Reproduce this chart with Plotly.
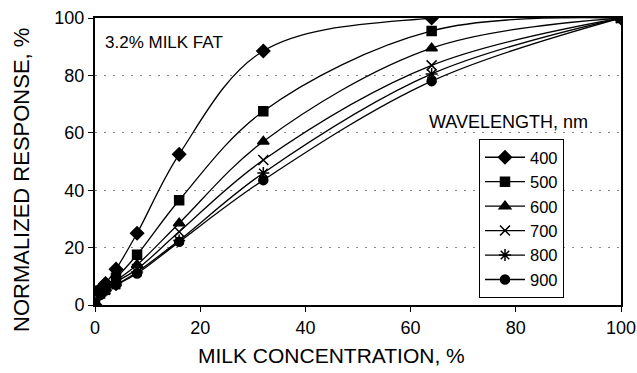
import plotly.graph_objects as go

milk_conc = [0, 1, 2, 4, 8, 16, 32, 64, 100]
wavelengths = ["400", "500", "600", "700", "800", "900"]
resp_400 = [0, 5.5, 7.5, 12.5, 25.0, 52.5, 88.5, 100.0, 100]
resp_500 = [0, 5.0, 6.5, 9.5, 17.5, 36.5, 67.5, 95.5, 100]
resp_600 = [0, 4.5, 6.0, 8.5, 14.0, 28.5, 57.0, 89.5, 100]
resp_700 = [0, 4.0, 5.5, 8.0, 12.5, 25.5, 50.5, 83.5, 100]
resp_800 = [0, 4.0, 5.0, 7.0, 11.5, 22.5, 46.0, 80.5, 100]
resp_900 = [0, 3.5, 5.0, 7.0, 11.0, 22.0, 43.5, 78.0, 100]
series = [resp_400, resp_500, resp_600, resp_700, resp_800, resp_900]
symbols = ["diamond", "square", "triangle-up", "x-thin-open", "asterisk-open", "circle"]
sizes = [10, 9, 10, 10, 10, 9]

FONT = "Liberation Sans, Arial, sans-serif"

fig = go.Figure()
for name, ys, sym, sz in zip(wavelengths, series, symbols, sizes):
    fig.add_trace(go.Scatter(
        x=milk_conc, y=ys, name=name, mode="lines+markers",
        line=dict(color="black", width=1.3, shape="spline", smoothing=1),
        marker=dict(symbol=sym, size=sz, color="black",
                    line=dict(color="black", width=1.5)),
    ))

fig.update_layout(
    width=637, height=373,
    margin=dict(l=95, r=16, t=18, b=68, autoexpand=False),
    paper_bgcolor="white", plot_bgcolor="white",
    font=dict(family=FONT, color="black", size=18),
    showlegend=True,
    legend=dict(x=(479 - 95) / 526, y=(305 - 139) / 287, xanchor="left", yanchor="top",
                bordercolor="black", borderwidth=1, bgcolor="white",
                font=dict(size=16.5), itemwidth=40),
    xaxis=dict(range=[0, 100], tickvals=[0, 20, 40, 60, 80, 100],
               showline=True, linecolor="black", linewidth=2, mirror=True,
               ticks="outside", ticklen=5, tickcolor="black", tickwidth=1,
               showgrid=False, zeroline=False, automargin=False,
               tickfont=dict(size=18)),
    yaxis=dict(range=[0, 100], tickvals=[0, 20, 40, 60, 80, 100],
               showline=True, linecolor="black", linewidth=2, mirror=True,
               ticks="outside", ticklen=5, tickcolor="black", tickwidth=1,
               showgrid=True, gridcolor="#888", griddash="2px,7px", gridwidth=1,
               zeroline=False, automargin=False,
               tickfont=dict(size=18)),
    annotations=[
        dict(text="MILK CONCENTRATION, %", xref="paper", yref="paper",
             x=(331 - 95) / 526, y=(305 - 355) / 287, xanchor="center", yanchor="middle",
             showarrow=False, font=dict(size=21)),
        dict(text="NORMALIZED RESPONSE, %", xref="paper", yref="paper",
             x=(21 - 95) / 526, y=(305 - 180) / 287, xanchor="center", yanchor="middle",
             textangle=-90, showarrow=False, font=dict(size=22)),
        dict(text="3.2% MILK FAT", xref="paper", yref="paper",
             x=(103 - 95) / 526, y=(305 - 43) / 287, xanchor="left", yanchor="middle",
             showarrow=False, font=dict(size=17)),
        dict(text="WAVELENGTH, nm", xref="paper", yref="paper",
             x=(508 - 95) / 526, y=(305 - 122) / 287, xanchor="center", yanchor="middle",
             showarrow=False, font=dict(size=18)),
    ],
)

fig.write_html("out.html")
